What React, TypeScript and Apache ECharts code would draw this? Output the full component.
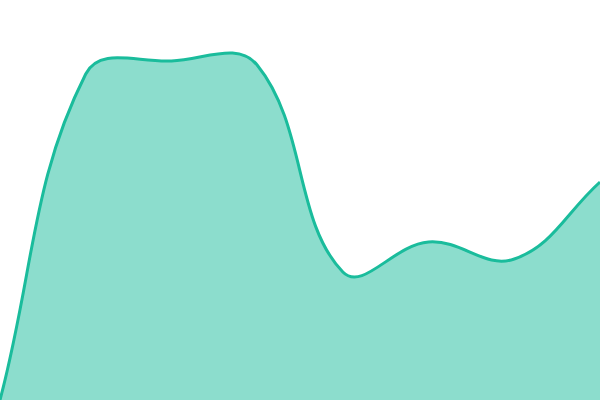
import * as echarts from 'echarts';
import React, { useEffect, useRef } from 'react';

// categories and series values
const categories = ['1', '2', '3', '4', '5', '6', '7', '8'];
const values = [0, 326, 339, 335, 128, 158, 141, 218];

const TENSION = 0.4;

type Pt = [number, number];

// cubic spline with distance-weighted control points (no clamping, so it can overshoot)
function splinePath(pts: Pt[], t: number): string {
  const ctrl = pts.map((cur, i) => {
    const prev = pts[Math.max(0, i - 1)];
    const next = pts[Math.min(pts.length - 1, i + 1)];
    const d01 = Math.hypot(cur[0] - prev[0], cur[1] - prev[1]);
    const d12 = Math.hypot(next[0] - cur[0], next[1] - cur[1]);
    const sum = d01 + d12;
    const s01 = sum ? d01 / sum : 0;
    const s12 = sum ? d12 / sum : 0;
    const dx = next[0] - prev[0];
    const dy = next[1] - prev[1];
    return {
      inCp: [cur[0] - t * s01 * dx, cur[1] - t * s01 * dy],
      outCp: [cur[0] + t * s12 * dx, cur[1] + t * s12 * dy],
    };
  });
  let d = `M ${pts[0][0]} ${pts[0][1]}`;
  for (let i = 0; i < pts.length - 1; i++) {
    const a = ctrl[i].outCp;
    const b = ctrl[i + 1].inCp;
    const p = pts[i + 1];
    d += ` C ${a[0]} ${a[1]} ${b[0]} ${b[1]} ${p[0]} ${p[1]}`;
  }
  return d;
}

const App: React.FC = () => {
  const chartRef = useRef<HTMLDivElement>(null);

  useEffect(() => {
    const myChart = echarts.init(chartRef.current!, undefined, { renderer: 'svg' });

    const option = {
      animation: false,
      grid: { left: 0, right: 0, top: 0, bottom: 0 },
      xAxis: {
        type: 'category',
        boundaryGap: false,
        data: categories,
        show: false,
      },
      yAxis: {
        type: 'value',
        min: 0,
        max: 400,
        show: false,
      },
      series: [
        {
          type: 'custom',
          data: values.map((v, i) => [i, v]),
          encode: { x: 0, y: 1 },
          renderItem: (params: any, api: any) => {
            if (params.dataIndex !== 0) return null;
            const pts = values.map((v, i) => api.coord([i, v]) as Pt);
            const line = splinePath(pts, TENSION);
            const b0 = api.coord([0, 0]);
            const b1 = api.coord([values.length - 1, 0]);
            const area = `${line} L ${b1[0]} ${b1[1]} L ${b0[0]} ${b0[1]} Z`;
            return {
              type: 'group',
              children: [
                {
                  type: 'path',
                  shape: { pathData: area },
                  style: { fill: 'rgba(26, 188, 156, 0.5)', stroke: null },
                },
                {
                  type: 'path',
                  shape: { pathData: line },
                  style: { fill: null, stroke: '#1abc9c', lineWidth: 3 },
                },
              ],
            };
          },
        },
      ],
    };

    myChart.setOption(option);

    return () => {
      myChart.dispose();
    };
  }, []);

  return (
    <div
      ref={chartRef}
      style={{ position: 'fixed', left: 0, top: 0, width: '600px', height: '400px' }}
    />
  );
};

export default App;
